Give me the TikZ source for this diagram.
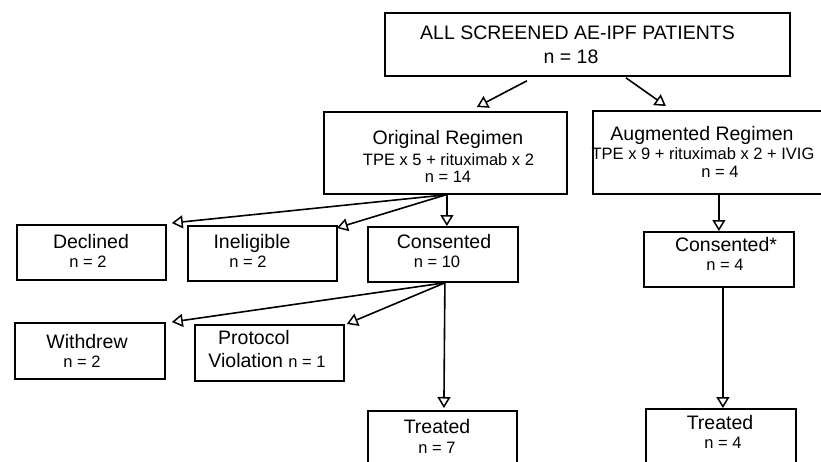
\documentclass[tikz,border=0pt]{standalone}
\usepackage{fontspec}
\setmainfont{Liberation Sans}
\usetikzlibrary{arrows.meta}
\tikzset{
  box/.style={draw=black, line width=1.8pt, rectangle, inner sep=0pt, anchor=north west},
  big/.style={anchor=base, inner sep=0pt, font=\fontsize{19.5}{22}\selectfont},
  small/.style={anchor=base, inner sep=0pt, font=\fontsize{16.5}{19}\selectfont},
  arr/.style={line width=1.6pt, -{Triangle[open, length=11pt, width=13pt, line width=1.5pt]}}
}
\begin{document}
\begin{tikzpicture}[x=1pt, y=-1pt]
\useasboundingbox (0,0) rectangle (821,461);
\fill[white] (0,0) rectangle (821,461);
\begin{scope}
\clip (0,0) rectangle (821,461);
% boxes
\node[box, minimum width=405pt, minimum height=63pt] (top) at (384,12) {};
\node[box, minimum width=243pt, minimum height=82pt] (orig) at (323,111) {};
\node[box, minimum width=253pt, minimum height=83pt] (aug) at (592,110) {};
\node[box, minimum width=149pt, minimum height=55pt] (decl) at (16,224) {};
\node[box, minimum width=149pt, minimum height=55pt] (inel) at (187,225) {};
\node[box, minimum width=150pt, minimum height=55pt] (cons) at (367,226) {};
\node[box, minimum width=150pt, minimum height=56pt] (withd) at (14,322) {};
\node[box, minimum width=149pt, minimum height=56pt] (prot) at (194,324) {};
\node[box, minimum width=149pt, minimum height=70pt] (treatL) at (367,410) {};
\node[box, minimum width=150pt, minimum height=55pt] (consS) at (643,231) {};
\node[box, minimum width=150pt, minimum height=70pt] (treatR) at (645,408) {};
% texts
\node[big] (t1) at (577.5,39) {ALL SCREENED AE-IPF PATIENTS};
\node[big] (t2) at (571,63) {n = 18};
\node[big] (o1) at (448,144) {Original Regimen};
\node[small] (o2) at (448.5,165) {TPE x 5 + rituximab x 2};
\node[small] (o3) at (448,182) {n = 14};
\node[big] (a1) at (702,140) {Augmented Regimen};
\node[small] (a2) at (703,159) {TPE x 9 + rituximab x 2 + IVIG};
\node[small] (a3) at (720,177) {n = 4};
\node[big] (d1) at (91,248) {Declined};
\node[small] (d2) at (88,267) {n = 2};
\node[big] (i1) at (252,248) {Ineligible};
\node[small] (i2) at (248,267) {n = 2};
\node[big] (c1) at (444,248) {Consented};
\node[small] (c2) at (437,267) {n = 10};
\node[big] (w1) at (87,348) {Withdrew};
\node[small] (w2) at (82,367) {n = 2};
\node[big] (p1) at (254,344) {Protocol};
\node[anchor=base, inner sep=0pt] (p2) at (267,367) {\fontsize{19.5}{22}\selectfont Violation \fontsize{16.5}{19}\selectfont n = 1};
\node[big] (tl1) at (437,433) {Treated};
\node[small] (tl2) at (437,453) {n = 7};
\node[big] (cs1) at (726,251) {Consented*};
\node[small] (cs2) at (725,270) {n = 4};
\node[big] (tr1) at (720,429) {Treated};
\node[small] (tr2) at (723,448) {n = 4};
% arrows
\draw[arr] ([xshift=-60.5pt,yshift=-4pt]top.south) -- ([xshift=31.5pt,yshift=4pt]orig.north);
\draw[arr] ([xshift=38.5pt,yshift=-1pt]top.south) -- ([xshift=-53.5pt,yshift=4pt]aug.north);
\draw[arr] ([xshift=0.5pt]orig.south) -- ([xshift=5pt,yshift=1pt]decl.north east);
\draw[arr] ([xshift=0.5pt]orig.south) -- ([xshift=-1pt,yshift=-3pt]inel.north east);
\draw[arr] ([xshift=1.5pt]orig.south) -- ([xshift=4pt]cons.north);
\draw[arr] ([xshift=2pt]cons.south) -- ([xshift=6pt]withd.north east);
\draw[arr] ([xshift=2pt]cons.south) -- ([xshift=2pt]prot.north east);
\draw[arr] ([xshift=2pt]cons.south) -- ([xshift=1.5pt,yshift=2pt]treatL.north);
\draw[arr] ([xshift=-0.5pt]aug.south) -- (consS.north);
\draw[arr] ([xshift=4pt]consS.south) -- ([xshift=2pt]treatR.north);
\end{scope}
\end{tikzpicture}
\end{document}
